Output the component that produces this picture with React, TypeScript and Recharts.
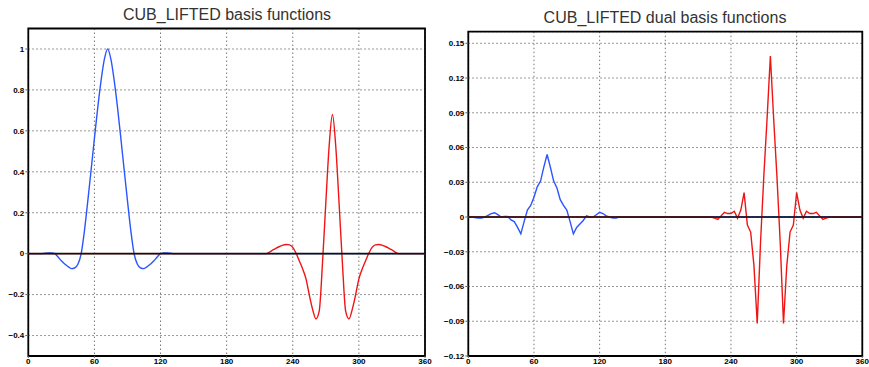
import React from 'react';
import {
    LineChart,
    Line,
    XAxis,
    YAxis,
    CartesianGrid,
    ReferenceLine,
    ReferenceArea
} from 'recharts';

// x positions shared by both panels
const xTicks = [0, 60, 120, 180, 240, 300, 360];
const basisTicks = [-0.4, -0.2, 0, 0.2, 0.4, 0.6, 0.8, 1];
const dualTicks = [-0.12, -0.09, -0.06, -0.03, 0, 0.03, 0.06, 0.09, 0.12, 0.15];

// left panel: scaling function (blue), wavelet (red)
const scalingPts = [
    [0, 0], [3, 0], [6, 0], [9, 0], [12, 0], [15, 0.002], [18, 0.004], [21, 0.004], [24, 0],
    [27, -0.016], [30, -0.035], [33, -0.051], [36, -0.063], [39, -0.073], [42, -0.07], [45, -0.052],
    [48, 0], [51, 0.114], [54, 0.258], [57, 0.409], [60, 0.563], [63, 0.712], [66, 0.844], [69, 0.949],
    [72, 1], [75, 0.949], [78, 0.844], [81, 0.712], [84, 0.563], [87, 0.409], [90, 0.258], [93, 0.114],
    [96, 0], [99, -0.052], [102, -0.07], [105, -0.073], [108, -0.063], [111, -0.051], [114, -0.035],
    [117, -0.016], [120, 0], [123, 0.004], [126, 0.004], [129, 0.002], [132, 0], [138, 0], [144, 0], [360, 0]
];

const waveletPts = [
    [0, 0], [216, 0], [219, 0.008], [222, 0.018], [225, 0.027], [228, 0.035], [231, 0.042], [234, 0.045],
    [237, 0.043], [240, 0.031], [243, 0.002], [246, -0.036], [249, -0.075], [252, -0.123], [255, -0.202],
    [258, -0.272], [261, -0.319], [264, -0.281], [267, -0.043], [270, 0.249], [273, 0.525], [276, 0.68],
    [279, 0.525], [282, 0.249], [285, -0.043], [288, -0.281], [291, -0.319], [294, -0.272], [297, -0.202],
    [300, -0.123], [303, -0.075], [306, -0.036], [309, 0.002], [312, 0.031], [315, 0.043], [318, 0.045],
    [321, 0.042], [324, 0.035], [327, 0.027], [330, 0.018], [333, 0.008], [336, 0], [360, 0]
];

// right panel: dual scaling function (blue), dual wavelet (red)
const dualScalingPts = [
    [0, 0], [3, 0], [6, -0.0005], [9, -0.001], [12, -0.001], [15, 0], [18, 0.0015], [21, 0.003],
    [24, 0.0037], [27, 0.002], [30, 0], [33, 0.0005], [36, 0.0005], [39, -0.0025], [42, -0.004],
    [45, -0.009], [48, -0.0145], [51, -0.004], [54, 0.006], [57, 0.01], [60, 0.017], [63, 0.026],
    [66, 0.031], [69, 0.043], [72, 0.054], [75, 0.043], [78, 0.031], [81, 0.025], [84, 0.015],
    [87, 0.01], [90, 0.006], [93, -0.004], [96, -0.0145], [99, -0.009], [102, -0.006], [105, -0.003],
    [108, 0.001], [111, 0], [114, 0], [117, 0.002], [120, 0.004], [123, 0.003], [126, 0.001], [129, 0],
    [132, -0.001], [135, -0.001], [138, 0], [144, 0], [360, 0]
];

const dualWaveletPts = [
    [0, 0], [219, 0], [222, 0], [225, -0.001], [228, -0.002], [231, 0.001], [234, 0.004], [237, 0.003],
    [240, 0.003], [243, 0.005], [246, -0.001], [249, 0.006], [252, 0.021], [255, -0.007], [258, -0.013],
    [261, -0.042], [264, -0.092], [267, -0.022], [270, 0.035], [273, 0.085], [276, 0.139], [279, 0.085],
    [282, 0.035], [285, -0.022], [288, -0.092], [291, -0.042], [294, -0.013], [297, -0.007], [300, 0.021],
    [303, 0.006], [306, -0.001], [309, 0.005], [312, 0.003], [315, 0.003], [318, 0.004], [321, 0.001],
    [324, -0.002], [327, -0.001], [330, 0], [360, 0]
];

const toRows = (pts: number[][]) => pts.map(([x, y]) => ({ x, y }));

const BLUE = '#2a55ff';
const RED = '#f01414';
const tickStyle = { fontSize: 8, fontWeight: 700, fill: '#000', fontFamily: 'Liberation Sans, Arial, sans-serif' };
const fmtY = (v: number) => (v < 0 ? '\u2212' + String(Math.abs(v)) : String(v));

type PanelProps = {
    left: number;
    width: number;
    marginTop: number;
    marginRight: number;
    yDomain: [number, number];
    yTicks: number[];
    blue: number[][];
    red: number[][];
    curve: 'monotone' | 'linear';
};

const Panel = (props: PanelProps) => {
    const { left, width, marginTop, marginRight, yDomain, yTicks, blue, red, curve } = props;
    return (
        <div style={{ position: 'absolute', left, top: 0 }}>
            <LineChart
                width={width}
                height={367}
                margin={{ top: marginTop, right: marginRight, bottom: 0, left: 0 }}
            >
                <CartesianGrid stroke="#777" strokeDasharray="1.5 2.5" />
                <XAxis
                    type="number"
                    dataKey="x"
                    domain={[0, 360]}
                    ticks={xTicks}
                    allowDataOverflow
                    height={11}
                    axisLine={false}
                    tickSize={2}
                    tickMargin={0}
                    tick={tickStyle}
                    interval={0}
                />
                <YAxis
                    type="number"
                    domain={yDomain}
                    ticks={yTicks}
                    allowDataOverflow
                    width={28.3}
                    axisLine={false}
                    tickSize={3}
                    tickMargin={1}
                    tick={tickStyle}
                    tickFormatter={fmtY}
                    interval={0}
                />
                <Line
                    data={toRows(blue)}
                    dataKey="y"
                    type={curve}
                    stroke={BLUE}
                    strokeWidth={1.4}
                    dot={false}
                    isAnimationActive={false}
                />
                <Line
                    data={toRows(red)}
                    dataKey="y"
                    type={curve}
                    stroke={RED}
                    strokeWidth={1.4}
                    dot={false}
                    isAnimationActive={false}
                />
                <ReferenceLine y={0} stroke="#111" strokeWidth={1.6} />
                <ReferenceArea
                    x1={0}
                    x2={360}
                    y1={yDomain[0]}
                    y2={yDomain[1]}
                    fill="none"
                    fillOpacity={0}
                    stroke="#000"
                    strokeWidth={1.8}
                />
            </LineChart>
        </div>
    );
};

const titleStyle: React.CSSProperties = {
    position: 'absolute',
    fontFamily: 'Liberation Sans, Arial, sans-serif',
    fontSize: 16,
    color: '#333',
    textAlign: 'center',
    lineHeight: '18px',
    whiteSpace: 'nowrap'
};

const App = () => {
    return (
        <div
            style={{
                position: 'absolute',
                left: 0,
                top: 0,
                width: 869,
                height: 367,
                background: '#fff',
                overflow: 'hidden'
            }}
        >
            <Panel
                left={0}
                width={440}
                marginTop={28.5}
                marginRight={15}
                yDomain={[-0.5, 1.1]}
                yTicks={basisTicks}
                blue={scalingPts}
                red={waveletPts}
                curve="monotone"
            />
            <Panel
                left={440}
                width={429}
                marginTop={31.7}
                marginRight={6.7}
                yDomain={[-0.12, 0.16]}
                yTicks={dualTicks}
                blue={dualScalingPts}
                red={dualWaveletPts}
                curve="linear"
            />
            <div style={{ ...titleStyle, left: 0, top: 6, width: 454 }}>CUB_LIFTED basis functions</div>
            <div style={{ ...titleStyle, left: 465, top: 8.5, width: 400 }}>CUB_LIFTED dual basis functions</div>
        </div>
    );
};

export default App;
